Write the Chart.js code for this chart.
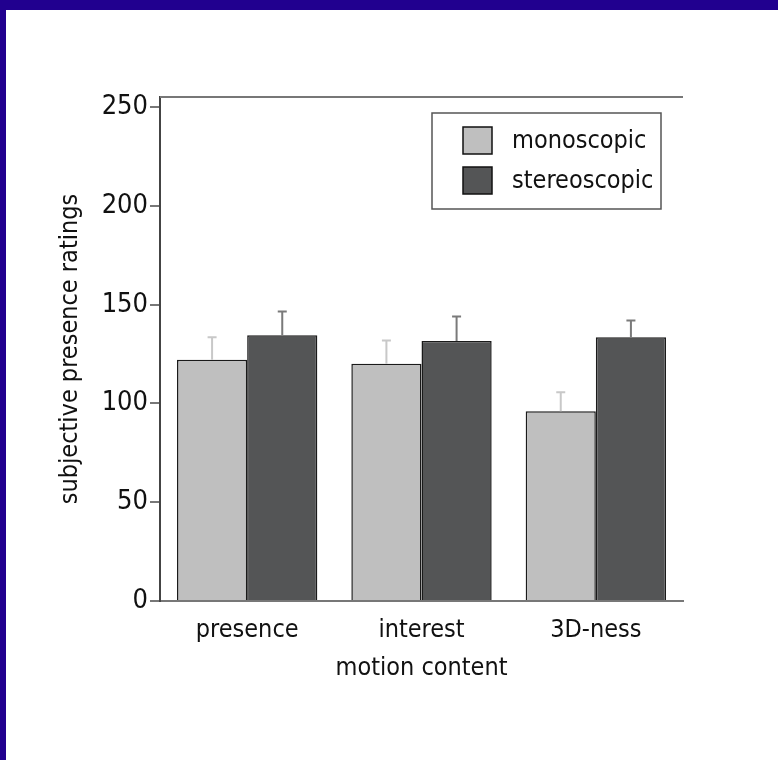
<!DOCTYPE html>
<html>
<head>
<meta charset="utf-8">
<script src="https://cdn.jsdelivr.net/npm/chart.js@4.4.1/dist/chart.umd.min.js"></script>
<style>
  html, body { margin: 0; padding: 0; background: #ffffff; }
  #wrap { position: relative; width: 778px; height: 760px; overflow: hidden; background: #fff; }
  #topbar { position: absolute; left: 0; top: 0; width: 778px; height: 10px; background: #21008f; z-index: 2; }
  #leftbar { position: absolute; left: 0; top: 0; width: 6px; height: 760px; background: #21008f; z-index: 2; }
  #c { position: absolute; left: 0; top: 0; }
</style>
</head>
<body>
<div id="wrap">
  <canvas id="c" width="778" height="760"></canvas>
  <div id="topbar"></div>
  <div id="leftbar"></div>
</div>
<script>
// ---- data ----
const categories = ["presence", "interest", "3D-ness"];
const seriesNames = ["monoscopic", "stereoscopic"];
const monoscopic = [122, 120, 96];
const stereoscopic = [134.5, 131.5, 133.5];
const monoError = [11.5, 11.8, 9.6];
const stereoError = [12, 12.5, 8.4];
const yTicks = [0, 50, 100, 150, 200, 250];
const xTitle = "motion content";
const yTitle = "subjective presence ratings";

const FONT = "'DejaVu Sans Condensed', 'Liberation Sans', sans-serif";
const FS = 25;

const PLOT_LEFT = 160, PLOT_TOP = 97, PLOT_RIGHT = 683, PLOT_BOTTOM = 601;
const W = 778, H = 760;
const PAD_BOTTOM = 77;

const errorBars = {
  id: 'errorBars',
  afterDatasetsDraw(chart) {
    const ctx = chart.ctx;
    const y = chart.scales.y;
    const errs = [monoError, stereoError];
    const colors = ['#c8c8c8', '#7a7a7a'];
    chart.data.datasets.forEach((ds, di) => {
      const meta = chart.getDatasetMeta(di);
      meta.data.forEach((bar, i) => {
        const top = y.getPixelForValue(ds.data[i] + errs[di][i]);
        const base = y.getPixelForValue(ds.data[i]);
        ctx.save();
        ctx.strokeStyle = colors[di];
        ctx.lineWidth = 2;
        ctx.beginPath();
        ctx.moveTo(bar.x, base);
        ctx.lineTo(bar.x, top);
        ctx.moveTo(bar.x - 4.5, top);
        ctx.lineTo(bar.x + 4.5, top);
        ctx.stroke();
        ctx.restore();
      });
    });
  }
};

const frameAndLegend = {
  id: 'frameAndLegend',
  afterDraw(chart) {
    const ctx = chart.ctx;
    const a = chart.chartArea;
    ctx.save();
    // top frame line
    ctx.strokeStyle = '#777';
    ctx.lineWidth = 2;
    ctx.beginPath();
    ctx.moveTo(a.left, a.top);
    ctx.lineTo(a.right, a.top);
    ctx.stroke();
    // legend box
    const bx = 432, by = 113, bw = 229, bh = 96;
    ctx.fillStyle = '#fff';
    ctx.fillRect(bx, by, bw, bh);
    ctx.strokeStyle = '#555';
    ctx.lineWidth = 1.5;
    ctx.strokeRect(bx, by, bw, bh);
    ctx.font = FS + 'px ' + FONT;
    ctx.textBaseline = 'middle';
    ctx.textAlign = 'left';
    chart.data.datasets.forEach((ds, i) => {
      const sy = 127 + i * 40;
      ctx.fillStyle = ds.backgroundColor;
      ctx.fillRect(463, sy, 29, 27);
      ctx.strokeStyle = '#111';
      ctx.lineWidth = 1.5;
      ctx.strokeRect(463, sy, 29, 27);
      ctx.fillStyle = '#111';
      ctx.fillText(ds.label, 512, sy + 14);
    });
    ctx.restore();
  }
};

new Chart(document.getElementById('c'), {
  type: 'bar',
  data: {
    labels: categories,
    datasets: [
      { label: seriesNames[0], data: monoscopic, backgroundColor: '#bfbfbf', borderColor: '#1a1a1a', borderWidth: 1.5, borderSkipped: 'bottom' },
      { label: seriesNames[1], data: stereoscopic, backgroundColor: '#545556', borderColor: '#1a1a1a', borderWidth: 1.5, borderSkipped: 'bottom' }
    ]
  },
  plugins: [errorBars, frameAndLegend],
  options: {
    responsive: false,
    animation: false,
    devicePixelRatio: 1,
    layout: { padding: { left: 20, top: PLOT_TOP, right: W - PLOT_RIGHT, bottom: PAD_BOTTOM } },
    datasets: { bar: { categoryPercentage: 0.805, barPercentage: 1.0 } },
    plugins: { legend: { display: false }, tooltip: { enabled: false } },
    scales: {
      x: {
        grid: { display: false, drawTicks: false },
        border: { display: true, color: '#777', width: 2 },
        ticks: { color: '#111', font: { family: FONT, size: FS }, padding: 14 },
        title: { display: true, text: xTitle, color: '#111', font: { family: FONT, size: FS }, padding: { top: 4, bottom: 0 } },
        afterFit(s) { s.height = H - PAD_BOTTOM - PLOT_BOTTOM; }
      },
      y: {
        min: 0, max: 255,
        grid: { drawOnChartArea: false, drawTicks: true, tickLength: 10, color: '#777', lineWidth: 2 },
        border: { display: true, color: '#444', width: 2 },
        ticks: {
          includeBounds: false, stepSize: 50, color: '#111', padding: 2,
          font: { family: FONT, size: 27 },
          callback: (v) => yTicks.includes(v) ? String(v) : ''
        },
        title: { display: true, text: yTitle, color: '#111', font: { family: FONT, size: FS }, padding: { top: 35, bottom: 0 } },
        afterFit(s) { s.width = PLOT_LEFT - 20; }
      }
    }
  }
});
</script>
</body>
</html>
